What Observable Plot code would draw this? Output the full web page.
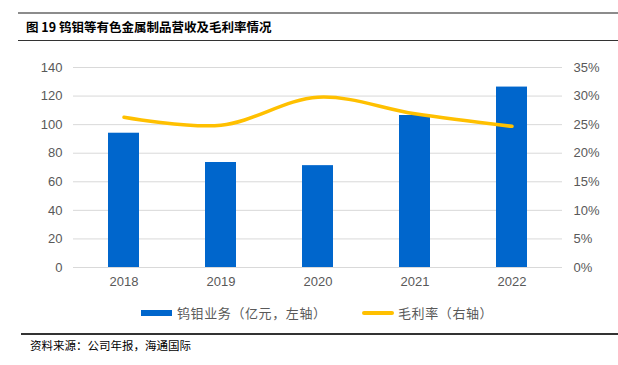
<!DOCTYPE html>
<html><head><meta charset="utf-8">
<script src="https://cdn.jsdelivr.net/npm/d3@7"></script>
<script src="https://cdn.jsdelivr.net/npm/@observablehq/plot@0.6"></script>
<style>
body{margin:0;width:618px;height:365px;position:relative;background:#fff;font-family:"Noto Sans CJK SC",sans-serif;overflow:hidden}
#topRule{position:absolute;left:18px;top:12px;width:600px;height:2px;background:#8c8c8c}
#title{position:absolute;left:26px;top:17px;font-size:12.5px;font-weight:bold;color:#000;line-height:20px;white-space:nowrap}
#titleRule{position:absolute;left:18px;top:39.5px;width:600px;height:1.5px;background:#333}
#chart{position:absolute;left:0;top:50px}
.lg{position:absolute;top:304px;font-size:13px;letter-spacing:0.6px;color:#595959;line-height:18px;white-space:nowrap}
.sw{position:absolute}
#srcRule{position:absolute;left:21px;top:333px;width:597px;height:1.5px;background:#333}
#source{position:absolute;left:30px;top:337px;font-size:11.5px;color:#000;line-height:16px;white-space:nowrap}
</style></head>
<body>
<div id="topRule"></div>
<div id="title">图 19 钨钼等有色金属制品营收及毛利率情况</div>
<div id="titleRule"></div>
<div id="chart"></div>
<div class="sw" style="left:141px;top:310px;width:31px;height:6px;background:#0066CC"></div>
<div class="lg" style="left:177px">钨钼业务（亿元，左轴）</div>
<div class="sw" style="left:362px;top:311px;width:32px;height:4px;border-radius:2px;background:#FFC000"></div>
<div class="lg" style="left:398px">毛利率（右轴）</div>
<div id="srcRule"></div>
<div id="source">资料来源：公司年报，海通国际</div>
<script>
const years = ["2018", "2019", "2020", "2021", "2022"];
const revenue = [94.0, 73.5, 71.3, 106.4, 126.3];       // 钨钼业务（亿元）
const grossMargin = [26.3, 24.9, 29.8, 26.9, 24.7];     // 毛利率 (%)
const leftTicks = [0, 20, 40, 60, 80, 100, 120, 140];
const rightTicks = [0, 5, 10, 15, 20, 25, 30, 35];
const ratio = 140 / 35;

const data = years.map((y, i) => ({year: y, rev: revenue[i], gm: grossMargin[i]}));

const chart = Plot.plot({
  width: 618,
  height: 250,
  marginLeft: 73,
  marginRight: 56,
  marginTop: 17,
  marginBottom: 33,
  style: {fontFamily: "'Liberation Sans', Arial, sans-serif", fontSize: "13px", color: "#595959", background: "transparent"},
  x: {domain: years, paddingInner: 0.68, paddingOuter: 0.34, label: null},
  y: {domain: [0, 140], label: null},
  marks: [
    Plot.gridY(leftTicks, {stroke: "#d9d9d9", strokeOpacity: 1, strokeWidth: 1}),
    Plot.barY(data, {x: "year", y: "rev", fill: "#0066CC"}),
    Plot.line(data, {x: "year", y: d => d.gm * ratio, stroke: "#FFC000", strokeWidth: 3.5, curve: "catmull-rom", strokeLinecap: "round"}),
    Plot.axisY(leftTicks, {anchor: "left", tickSize: 0, tickPadding: 11, label: null}),
    Plot.axisY(rightTicks.map(d => d * ratio), {anchor: "right", tickSize: 0, tickPadding: 11, label: null, tickFormat: d => (d / ratio) + "%"}),
    Plot.axisX({tickSize: 0, tickPadding: 9, label: null})
  ]
});
document.getElementById("chart").appendChild(chart);
</script>
</body></html>
